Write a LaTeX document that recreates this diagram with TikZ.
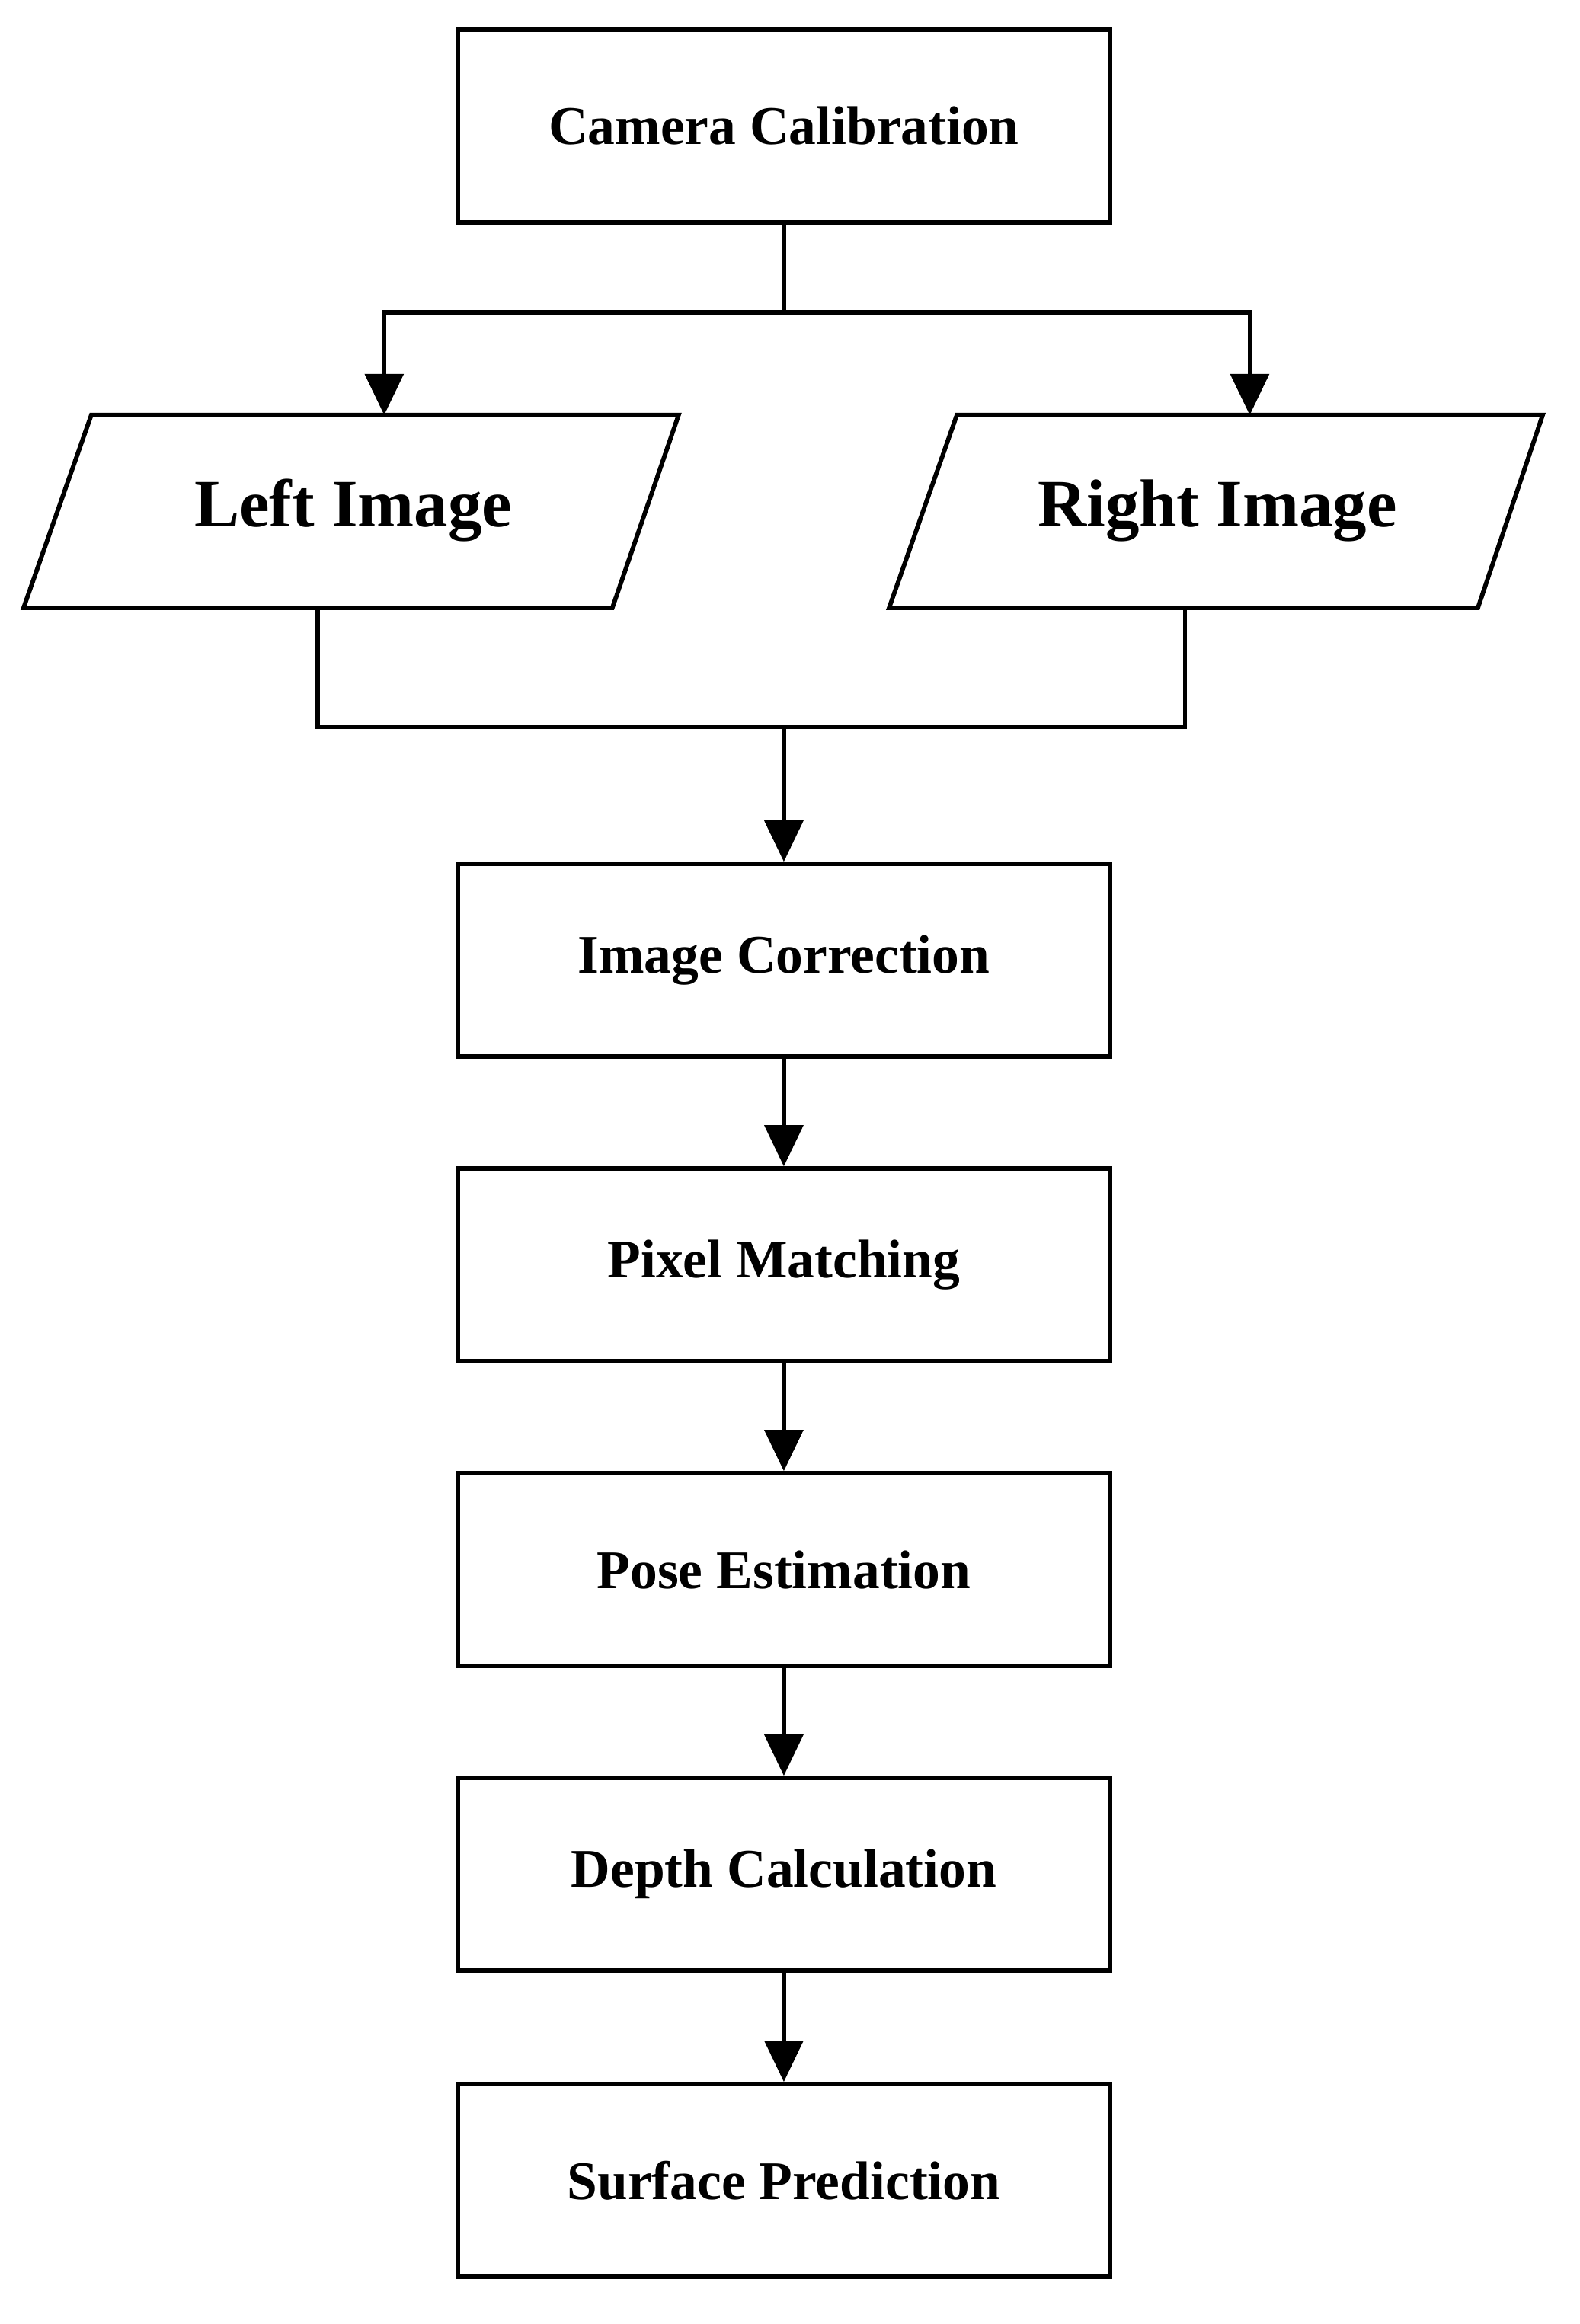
\documentclass[tikz,border=0pt]{standalone}
\usepackage{fontspec}
\setmainfont{Liberation Serif}
\usetikzlibrary{arrows.meta}
\begin{document}
\begin{tikzpicture}[x=0.5pt,y=-0.5pt,line width=1.5pt,
  box/.style={draw,minimum width=221.5pt,minimum height=65.5pt,inner sep=0pt,font=\fontsize{18.5}{22}\selectfont\bfseries},
  ptxt/.style={font=\fontsize{23}{27}\selectfont\bfseries},
  arr/.style={-{Triangle[length=14pt,width=13pt]}}]
\useasboundingbox (0,0) rectangle (1073,1579);
\node[box] (cam) at (532.5,85.5) {Camera Calibration};
\node[box] (ic) at (532.5,652.5) {Image Correction};
\node[box] (pm) at (532.5,859.5) {Pixel Matching};
\node[box] (pe) at (532.5,1066.5) {Pose Estimation};
\node[box] (dc) at (532.5,1273.5) {Depth Calculation};
\node[box] (sp) at (532.5,1481.5) {Surface Prediction};
\draw (62,282) -- (461,282) -- (416,413) -- (16,413) -- cycle;
\draw (650,282) -- (1048,282) -- (1004,413) -- (604,413) -- cycle;
\node[ptxt] (li) at (240,347) {Left Image};
\node[ptxt] (ri) at (827,347) {Right Image};
\coordinate (lt) at (261,282);
\coordinate (rt) at (849,282);
\coordinate (lb) at (216,413);
\coordinate (rb) at (805,413);
\coordinate (j1) at (532.5,212);
\coordinate (j2) at (532.5,494);
\draw (cam.south) -- (j1);
\draw[arr] (j1) -| (lt);
\draw[arr] (j1) -| (rt);
\draw (lb) |- (j2) -| (rb);
\draw[arr] (j2) -- (ic.north);
\draw[arr] (ic) -- (pm);
\draw[arr] (pm) -- (pe);
\draw[arr] (pe) -- (dc);
\draw[arr] (dc) -- (sp);
\end{tikzpicture}
\end{document}
